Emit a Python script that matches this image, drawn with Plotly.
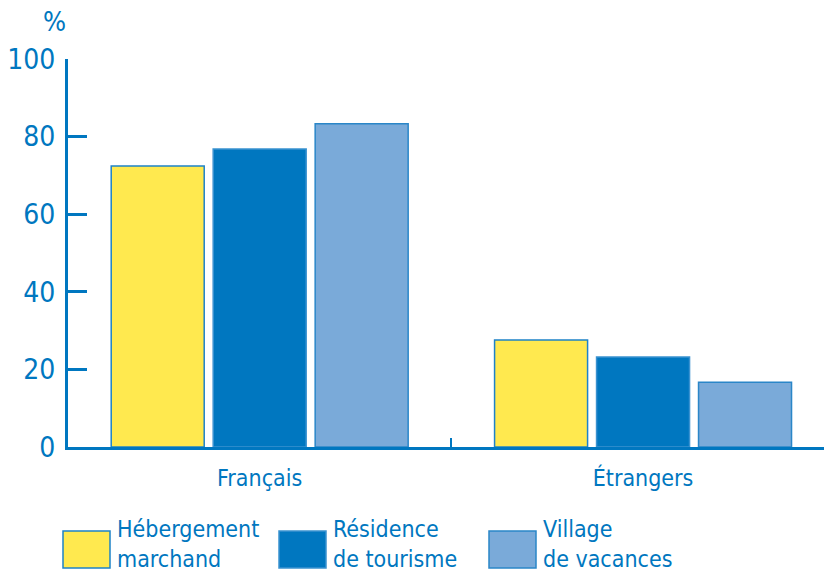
import plotly.graph_objects as go

categories = ["Français", "Étrangers"]
series_names = ["Hébergement<br>marchand", "Résidence<br>de tourisme", "Village<br>de vacances"]
hebergement = [72.4, 27.6]
residence = [76.8, 23.2]
village = [83.3, 16.7]
y_ticks = [0, 20, 40, 60, 80, 100]

colors = ["#FFE94F", "#0077C0", "#7AAAD9"]
line_colors = ["#1E82C8", "#3A92D0", "#2A86C8"]
TXT = "#0077C0"
FONT = "Liberation Sans Narrow, DejaVu Sans Condensed, Arial Narrow, sans-serif"

W, H = 824, 571
L, R, T, B = 68, 0, 59, 124

fig = go.Figure()
for name, vals, c, lc in zip(series_names, [hebergement, residence, village], colors, line_colors):
    fig.add_trace(go.Bar(x=categories, y=vals, name=name, marker=dict(color=c, line=dict(color=lc, width=1.5)),
                         showlegend=False, hoverinfo="skip"))

# manual legend (large swatches)
pw, ph = W - L - R, H - T - B
def px2x(p):
    return (p - L) / pw
def py2y(p):
    return (H - B - p) / ph
leg_x = [63, 279, 489]
box_w, box_top, box_bot = 47, 531, 568
shapes = []
annotations = []
for lx, name, c, lc in zip(leg_x, series_names, colors, line_colors):
    shapes.append(dict(type="rect", xref="paper", yref="paper",
                       x0=px2x(lx), x1=px2x(lx + box_w), y0=py2y(box_bot), y1=py2y(box_top),
                       fillcolor=c, line=dict(color=lc, width=1.5)))
    annotations.append(dict(xref="paper", yref="paper", x=px2x(lx + box_w + 5), y=py2y(544),
                            xanchor="left", yanchor="middle", align="left", showarrow=False,
                            text=name, font=dict(family=FONT, size=23, color=TXT)))
annotations.append(dict(xref="paper", yref="paper", x=px2x(54), y=py2y(22), xanchor="center", yanchor="middle",
                        showarrow=False, text="%", font=dict(family=FONT, size=27, color=TXT)))

fig.update_layout(
    width=W, height=H, margin=dict(l=L, r=R, t=T, b=B, autoexpand=False),
    plot_bgcolor="white", paper_bgcolor="white",
    bargap=0.202, bargroupgap=0.088, barmode="group",
    shapes=shapes, annotations=annotations,
    xaxis=dict(type="category", range=[-0.5, 1.472], showline=True, linecolor=TXT, linewidth=2.5,
               ticks="inside", tickson="boundaries", ticklen=9, tickwidth=2, tickcolor=TXT,
               showgrid=False, zeroline=False, ticklabelstandoff=9,
               tickfont=dict(family=FONT, size=23, color=TXT)),
    yaxis=dict(range=[0, 100], tickvals=y_ticks, showline=True, linecolor=TXT, linewidth=3,
               ticks="inside", ticklen=19, tickwidth=2.5, tickcolor=TXT, showgrid=False, zeroline=False,
               tickfont=dict(family=FONT, size=28, color=TXT), ticklabelstandoff=4),
)

fig.write_html("out.html", config={"displayModeBar": False},
               post_script="document.body.style.margin='0';document.body.style.padding='0';")
